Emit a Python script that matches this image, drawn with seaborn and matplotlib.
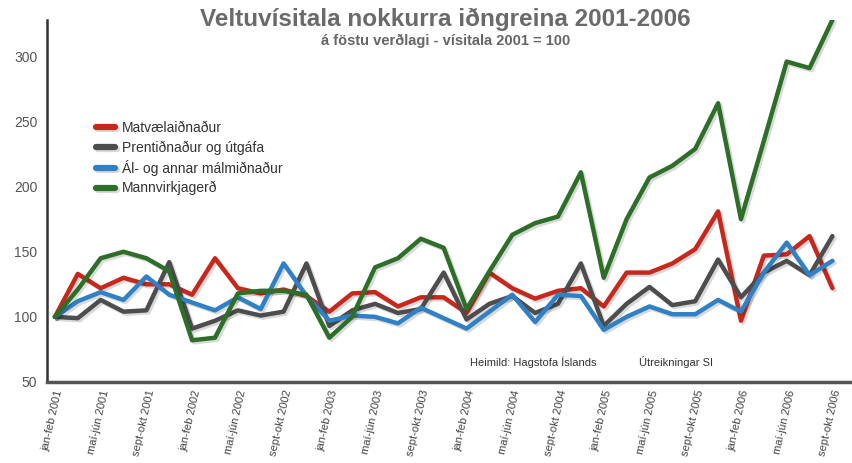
import numpy as np
import pandas as pd
import matplotlib
matplotlib.use("Agg")
import matplotlib.pyplot as plt
import matplotlib.patheffects as pe
import seaborn as sns

# bimonthly periods jan-feb 2001 .. sept-okt 2006
months = ["jan-feb", "mar-apr", "maí-jún", "júl-ágú", "sept-okt", "nóv-des"]
years = [2001, 2002, 2003, 2004, 2005, 2006]
periods = [f"{m} {y}" for y in years for m in months][:35]

matvaeli = [100, 133, 122, 130, 125, 125, 117, 145, 122, 118, 121, 116,
            104, 118, 119, 108, 115, 115, 103, 134, 122, 114, 120, 122,
            108, 134, 134, 141, 152, 181, 97, 147, 148, 162, 122]
prent = [100, 99, 113, 104, 105, 142, 91, 97, 105, 101, 104, 141,
         93, 105, 110, 103, 106, 134, 98, 110, 116, 103, 110, 141,
         93, 110, 123, 109, 112, 144, 115, 134, 143, 132, 162]
al = [100, 112, 119, 113, 131, 117, 111, 105, 115, 106, 141, 116,
      97, 101, 100, 95, 107, 99, 91, 104, 117, 96, 117, 116,
      90, 100, 108, 102, 102, 113, 104, 134, 157, 132, 143]
mannvirki = [100, 121, 145, 150, 145, 135, 82, 84, 118, 120, 120, 117,
             84, 100, 138, 145, 160, 153, 106, 135, 163, 172, 177, 211,
             130, 175, 207, 216, 229, 264, 175, 235, 296, 291, 328]

series_names = ["Matvælaiðnaður", "Prentiðnaður og útgáfa",
                "Ál- og annar málmiðnaður", "Mannvirkjagerð"]
colors = ["#c8281c", "#4d4d4d", "#2f80c4", "#2d6e28"]

df = pd.DataFrame({
    "idx": list(range(len(periods))) * 4,
    "value": matvaeli + prent + al + mannvirki,
    "grein": np.repeat(series_names, len(periods)),
})

sns.set_style("white")
plt.rcParams["font.family"] = ["Liberation Sans", "DejaVu Sans"]

fig = plt.figure(figsize=(8.53, 4.63), dpi=100)
ax = fig.add_axes([0.055, 0.175, 0.945, 0.782])

sns.lineplot(data=df, x="idx", y="value", hue="grein", hue_order=series_names,
             palette=colors, linewidth=3.2, ax=ax, legend=True)
for line in ax.get_lines():
    line.set_path_effects([pe.SimpleLineShadow(offset=(1.5, -1.5), alpha=0.15),
                           pe.Normal()])

ax.set_xlim(-0.35, 34.9)
ax.set_ylim(50, 328)
ax.set_yticks([50, 100, 150, 200, 250, 300])
ax.tick_params(axis="y", labelsize=10, labelcolor="#555555", length=0, pad=7)

tick_idx = list(range(0, len(periods), 2))
ax.set_xticks(tick_idx)
ax.set_xticklabels([periods[i] for i in tick_idx], rotation=77, ha="right",
                   rotation_mode="anchor", fontsize=8, color="#444444")
ax.tick_params(axis="x", length=0, pad=5)
ax.set_xlabel("")
ax.set_ylabel("")

sns.despine(ax=ax, top=True, right=True)
ax.spines["left"].set_color("#333333")
ax.spines["left"].set_linewidth(1.8)
ax.spines["bottom"].set_color("#555555")
ax.spines["bottom"].set_linewidth(2.5)

leg = ax.legend(loc="upper left", bbox_to_anchor=(0.045, 0.755), frameon=False,
                fontsize=10, handlelength=1.4, handletextpad=0.5,
                labelspacing=0.38)
for h in leg.get_lines():
    h.set_linewidth(4.5)
for t in leg.get_texts():
    t.set_color("#333333")

fig.text(0.522, 0.958, "Veltuvísitala nokkurra iðngreina 2001-2006",
         ha="center", va="center", fontsize=17.5, fontweight="bold", color="#6a6a6a")
fig.text(0.522, 0.912, "á föstu verðlagi - vísitala 2001 = 100",
         ha="center", va="center", fontsize=10.5, fontweight="bold", color="#666666")
ax.text(0.525, 0.055, "Heimild: Hagstofa Íslands", transform=ax.transAxes,
        fontsize=8, color="#333333", va="center")
ax.text(0.735, 0.055, "Útreikningar SI", transform=ax.transAxes,
        fontsize=8, color="#333333", va="center")

plt.savefig("out.png", dpi=100)
plt.close()
